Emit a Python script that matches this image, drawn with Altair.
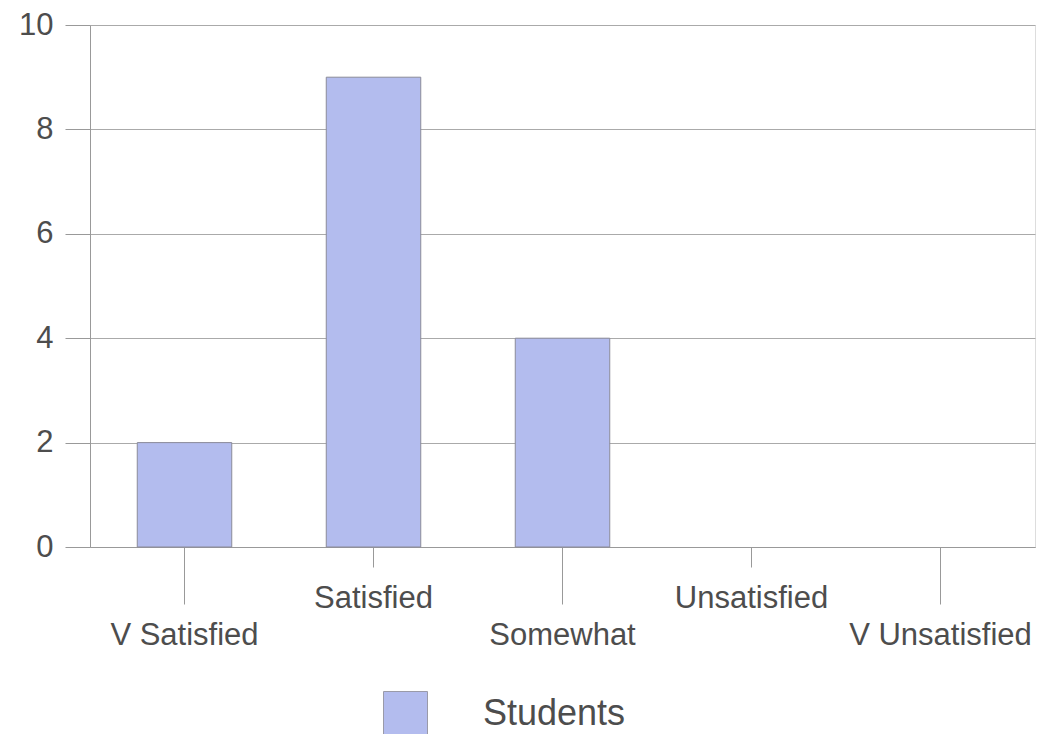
import altair as alt
import pandas as pd

categories = ["V Satisfied", "Satisfied", "Somewhat", "Unsatisfied", "V Unsatisfied"]
values = [2, 9, 4, 0, 0]
series = ["Students"] * 5
low_labels = ["V Satisfied", "Somewhat", "V Unsatisfied"]

df = pd.DataFrame({"category": categories, "value": values, "series": series})

FONT = "Liberation Sans"
TXT = "#4d4d4d"
low_test = "indexof(" + str(low_labels).replace("'", "\"") + ", datum.value) >= 0"

chart = alt.Chart(df).mark_bar(strokeWidth=1).encode(
    x=alt.X("category:N", sort=categories, title=None,
            scale=alt.Scale(paddingInner=0.5, paddingOuter=0.25),
            axis=alt.Axis(labelAngle=0, labelFont=FONT, labelFontSize=31, labelColor=TXT,
                          domainColor="#999999", tickColor="#999999",
                          tickSize={"condition": {"test": low_test, "value": 57}, "value": 20},
                          labelPadding=16, labelLimit=0, labelOverlap=False,
                          labelBaseline="top", grid=False)),
    y=alt.Y("value:Q", title=None,
            scale=alt.Scale(domain=[0, 10]),
            axis=alt.Axis(values=[0, 2, 4, 6, 8, 10], labelFont=FONT, labelFontSize=31,
                          labelColor=TXT, tickSize=25, tickColor="#999999",
                          domainColor="#999999", gridColor="#aaaaaa", labelPadding=12)),
    color=alt.Color("series:N", title=None,
                    scale=alt.Scale(range=["#b3bcee"]),
                    legend=alt.Legend(orient="none", legendX=293, legendY=666,
                                      symbolType="square", symbolSize=1936,
                                      symbolStrokeColor="#9a9aa8", symbolStrokeWidth=1,
                                      labelFont=FONT, labelFontSize=36, labelColor=TXT,
                                      labelOffset=55)),
    stroke=alt.value("#8a8a99"),
    strokeOpacity=alt.condition(alt.datum.value > 0, alt.value(1), alt.value(0)),
).properties(
    width=945, height=522,
    autosize=alt.AutoSizeParams(type="none"),
    padding={"left": 82, "top": 17, "right": 3, "bottom": 187},
).configure_view(stroke=None).configure(background="white")

chart.save("out.html", embed_options={"renderer": "svg", "actions": False})
